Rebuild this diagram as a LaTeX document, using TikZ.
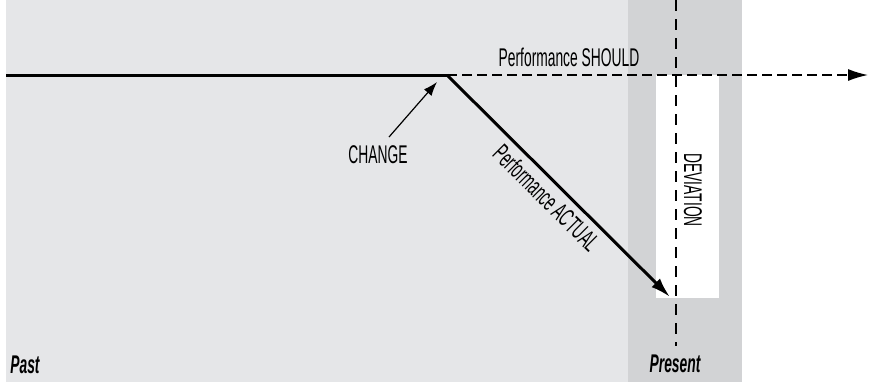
\documentclass[tikz,border=0pt]{standalone}
\usepackage{fontspec}
\setmainfont{Liberation Sans}[FakeStretch=0.54]
\usepackage{xcolor}
\usepackage{tikz}
\usetikzlibrary{arrows.meta,positioning}

\definecolor{pastgray}{HTML}{E5E6E8}
\definecolor{nowgray}{HTML}{D2D3D5}

\begin{document}
\begin{tikzpicture}[
    x=0.5pt, y=-0.5pt,
    lbl/.style={font=\fontsize{12.8}{14}\selectfont, inner sep=0pt},
    era/.style={font=\fontsize{12.8}{14}\selectfont\bfseries\itshape, inner sep=0pt},
    actual/.style={line width=1.5pt, -{Latex[length=10pt,width=6pt]}},
    should/.style={line width=0.75pt, dash pattern=on 5pt off 2.5pt},
    pointer/.style={line width=0.6pt, -{Latex[length=7pt,width=5pt]}}
]
\useasboundingbox (0,0) rectangle (870,382);

% Background bands
\fill[pastgray] (6,0) rectangle (628,382);
\fill[nowgray] (628,0) rectangle (742,382);
\fill[white] (656,75) rectangle (719,298);

% Key points
\coordinate (start) at (6,75);
\coordinate (change) at (447,75);
\coordinate (now) at (670,297);
\coordinate (goal) at (868,75);
\coordinate (top) at (676,0);
\coordinate (bottom) at (676,346);

% Present line
\draw[should, dash pattern=on 5.5pt off 4pt] (top) -- (bottom);

% Performance lines
\draw[line width=1.5pt] (start) -- (change);
\draw[should, -{Latex[length=10pt,width=6pt]}] (change) -- (goal);
\draw[actual] (change) -- node[lbl, sloped, below=3pt, pos=0.5] {Performance ACTUAL} (now);

% Labels
\node[lbl] (shouldlbl) at (569,57) {Performance SHOULD};
\node[lbl] (chg) at (378,155) {CHANGE};
\node[lbl, rotate=-90] (dev) at (693,190) {DEVIATION};
\node[era] (past) at (25,365) {Past};
\node[era] (present) at (675,364) {Present};

% Change pointer
\coordinate (chgtail) at (389,137);
\coordinate (chghead) at (437,82);
\draw[pointer] (chgtail) -- (chghead);

\end{tikzpicture}
\end{document}
